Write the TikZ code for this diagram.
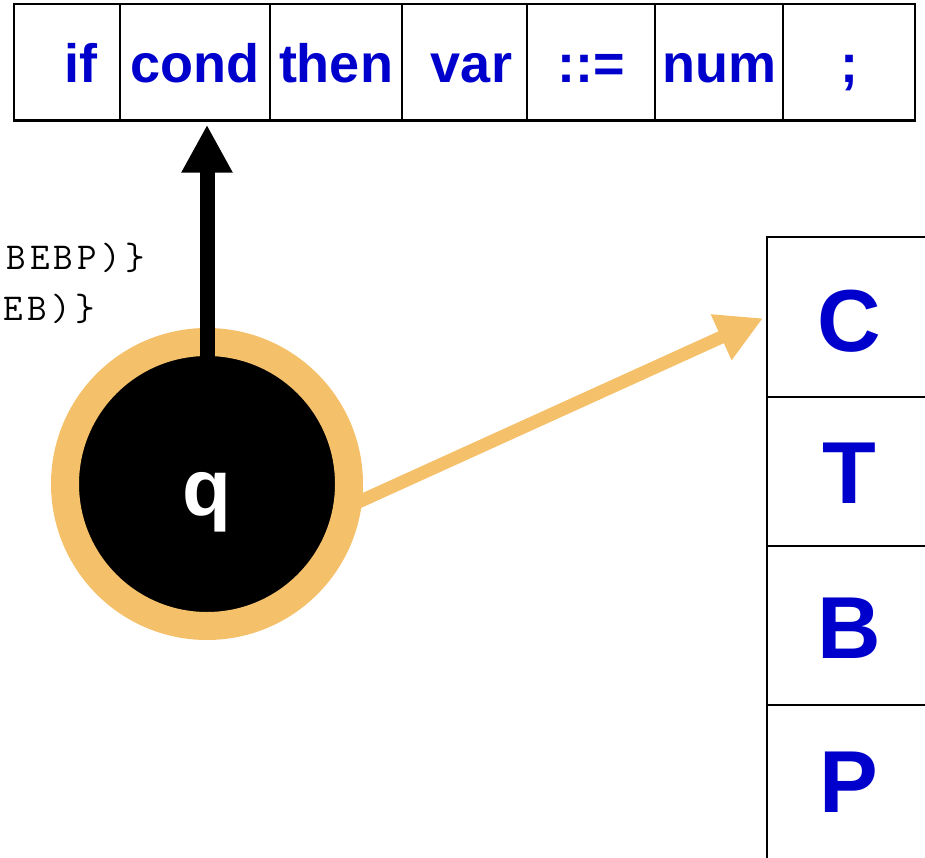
\documentclass[tikz,border=0pt]{standalone}
\usepackage{fontspec}
\setmainfont{Liberation Sans}
\newfontfamily\codefont[LetterSpace=11]{Latin Modern Mono}
\usetikzlibrary{arrows.meta}
\definecolor{tokblue}{HTML}{0000CC}
\definecolor{ringorange}{HTML}{F5C06A}
\begin{document}
\begin{tikzpicture}[x=1pt,y=-1pt,
  cell/.style={draw=black, line width=2.5pt, fill=white, rectangle, inner sep=0pt,
    anchor=base, text=tokblue, font=\fontsize{54}{54}\selectfont\bfseries,
    text height=79pt, text depth=37.5pt},
  stackcell/.style={draw=black, line width=2.5pt, fill=white, rectangle, inner sep=0pt,
    anchor=base, text=tokblue, font=\fontsize{88}{88}\selectfont\bfseries,
    minimum width=164pt},
  monotext/.style={inner sep=0pt, anchor=base east, font=\codefont\fontsize{38}{38}\selectfont},
  state/.style={circle, draw=ringorange, line width=28pt, fill=black, inner sep=0pt,
    minimum size=284pt, text=white, font=\fontsize{80}{80}\selectfont\bfseries,
    text height=62pt, text depth=0pt},
  blackarrow/.style={draw=black, line width=15pt, -{Triangle[length=48pt,width=48pt]}},
  orangearrow/.style={draw=ringorange, line width=13pt, -{Triangle[length=46pt,width=47pt]}}
]
\useasboundingbox (0,0) rectangle (925,858);

% token row
\node[cell, minimum width=133pt] (if) at (80.5,83) {if};
\node[cell, minimum width=150pt] (cond) at (195,83) {cond};
\node[cell, minimum width=132pt] (then) at (336,83) {then};
\node[cell, minimum width=125pt] (var) at (464.5,83) {\hspace*{14pt}var};
\node[cell, minimum width=128pt] (assign) at (591,83) {::=};
\node[cell, minimum width=128pt] (num) at (719,83) {num};
\node[cell, minimum width=132pt] (semi) at (849,83) {;};

% stack column
\node[stackcell, text height=114pt, text depth=46pt] (C) at (849,351) {C};
\node[stackcell, text height=106pt, text depth=43pt] (T) at (849,503) {T};
\node[stackcell, text height=112pt, text depth=47pt] (B) at (849,658) {B};
\node[stackcell, text height=107pt, text depth=58pt] (P) at (849,812) {P};

% left code fragments
\node[monotext] (l1) at (145,270) {BEBP)\}};
\node[monotext] (l2) at (95,320) {EB)\}};

% state
\node[state] (q) at (207,484) {q};

\draw[orangearrow, shorten <=-6pt, shorten >=3pt] (q.-6) -- (C.west);
\draw[blackarrow, shorten <=-36pt, shorten >=3pt] (q.north) -- (q.north |- cond.south);
\end{tikzpicture}
\end{document}
